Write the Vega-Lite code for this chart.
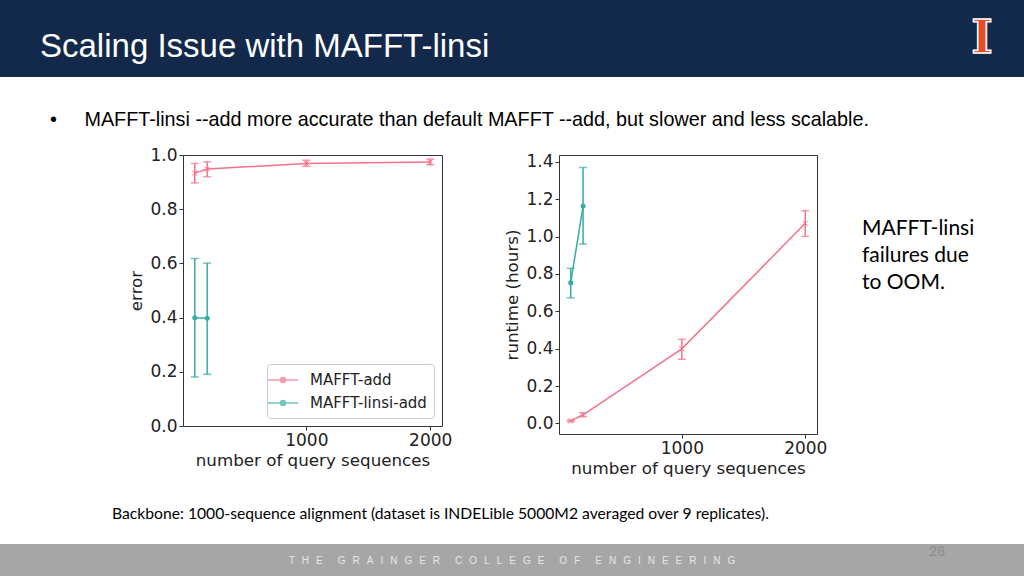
{
  "$schema": "https://vega.github.io/schema/vega-lite/v6.json",
  "padding": 0,
  "background": "white",
  "spacing": 0,
  "datasets": {
    "error": [
      {"tool": "MAFFT-add", "n": 100, "mean": 0.933, "lo": 0.897, "hi": 0.969},
      {"tool": "MAFFT-add", "n": 200, "mean": 0.948, "lo": 0.920, "hi": 0.975},
      {"tool": "MAFFT-add", "n": 1000, "mean": 0.969, "lo": 0.958, "hi": 0.981},
      {"tool": "MAFFT-add", "n": 2000, "mean": 0.974, "lo": 0.964, "hi": 0.985},
      {"tool": "MAFFT-linsi-add", "n": 100, "mean": 0.399, "lo": 0.181, "hi": 0.618},
      {"tool": "MAFFT-linsi-add", "n": 200, "mean": 0.398, "lo": 0.191, "hi": 0.601}
    ],
    "runtime": [
      {"tool": "MAFFT-add", "n": 100, "mean": 0.013, "lo": 0.009, "hi": 0.017},
      {"tool": "MAFFT-add", "n": 200, "mean": 0.046, "lo": 0.036, "hi": 0.057},
      {"tool": "MAFFT-add", "n": 1000, "mean": 0.399, "lo": 0.343, "hi": 0.450},
      {"tool": "MAFFT-add", "n": 2000, "mean": 1.071, "lo": 1.001, "hi": 1.139},
      {"tool": "MAFFT-linsi-add", "n": 100, "mean": 0.753, "lo": 0.672, "hi": 0.830},
      {"tool": "MAFFT-linsi-add", "n": 200, "mean": 1.164, "lo": 0.960, "hi": 1.370}
    ]
  },
  "config": {
    "view": {"stroke": null},
    "axis": {
      "grid": false,
      "domain": false,
      "tickColor": "#333333",
      "tickSize": 4,
      "labelColor": "#222222",
      "labelFont": "DejaVu Sans",
      "labelFontSize": 17,
      "labelPadding": 2,
      "titleColor": "#222222",
      "titleFont": "DejaVu Sans",
      "titleFontSize": 16.7,
      "titleFontWeight": "normal",
      "titlePadding": 4
    }
  },
  "vconcat": [
    {
      "hconcat": [
        {
          "width": 940, "height": 77,
          "data": {"values": [{}]},
          "mark": {"type": "rect", "color": "#13294b"},
          "title": {"text": "Scaling Issue with MAFFT-linsi", "orient": "top", "anchor": "start", "frame": "group", "offset": -63.5, "dx": 40, "baseline": "top", "font": "Liberation Sans", "fontSize": 33, "fontWeight": "normal", "color": "white"}
        },
        {
          "width": 84, "height": 77,
          "data": {"values": [{"logo": "I"}]},
          "layer": [
            {"mark": {"type": "rect", "color": "#13294b"}},
            {"mark": {"type": "text", "font": "DejaVu Serif", "fontWeight": "bold", "fontSize": 46, "fill": "#e84a27", "stroke": "white", "strokeWidth": 1.5, "baseline": "middle", "align": "center"}, "encoding": {"text": {"field": "logo"}}}
          ]
        }
      ],
      "spacing": 0,
      "bounds": "flush"
    },
    {
      "width": 1024, "height": 68,
      "data": {"values": [{}]},
      "mark": {"type": "rect", "opacity": 0},
      "title": {"text": "•\u00a0\u00a0\u00a0\u00a0\u00a0MAFFT-linsi --add more accurate than default MAFFT --add, but slower and less scalable.", "orient": "top", "anchor": "start", "frame": "group", "offset": -52.4, "dx": 50, "baseline": "top", "font": "Liberation Sans", "fontSize": 19.8, "fontWeight": "normal", "color": "black"}
    },
    {
      "hconcat": [
        {
          "width": 183, "height": 389,
          "data": {"values": [{}]},
          "mark": {"type": "rect", "opacity": 0},
          "title": {"text": "Backbone: 1000-sequence alignment (dataset is INDELible 5000M2 averaged over 9 replicates).", "orient": "bottom", "anchor": "start", "frame": "group", "offset": -25, "dx": 112, "baseline": "alphabetic", "font": "Lato", "fontSize": 15.7, "fontWeight": "normal", "color": "black"}
        },
        {
          "width": 259, "height": 271,
          "data": {"name": "error"},
          "view": {"stroke": "#333333", "strokeWidth": 1},
          "encoding": {
            "x": {"field": "n", "type": "quantitative", "title": "number of query sequences", "scale": {"domain": [5, 2095], "nice": false, "zero": false}, "axis": {"values": [1000, 2000], "format": "d"}},
            "color": {"field": "tool", "type": "nominal", "scale": {"domain": ["MAFFT-add", "MAFFT-linsi-add"], "range": ["#f77189", "#36ada4"]},
              "legend": {"orient": "bottom-right", "title": null, "offset": 8, "padding": 7, "strokeColor": "#cccccc", "fillColor": "white", "cornerRadius": 3, "labelFont": "DejaVu Sans", "labelFontSize": 15, "labelColor": "#222222", "symbolType": "M-1.9,0L1.9,0M-0.31,0A0.31,0.31,0,1,1,0.31,0A0.31,0.31,0,1,1,-0.31,0Z", "symbolSize": 256, "symbolStrokeWidth": 1.5, "labelOffset": 18, "rowPadding": 6}}
          },
          "layer": [
            {
              "mark": {"type": "errorbar", "ticks": {"size": 8}, "thickness": 1.5},
              "encoding": {
                "y": {"field": "lo", "type": "quantitative", "title": "error", "scale": {"domain": [0, 1], "nice": false}, "axis": {"format": ".1f"}},
                "y2": {"field": "hi"}
              }
            },
            {
              "mark": {"type": "line", "strokeWidth": 1.5},
              "encoding": {
                "y": {"field": "mean", "type": "quantitative", "title": "error", "scale": {"domain": [0, 1], "nice": false}, "axis": {"format": ".1f"}}
              }
            },
            {
              "transform": [{"filter": "datum.tool == 'MAFFT-add'"}],
              "mark": {"type": "point", "shape": "M-1,-1L1,1M-1,1L1,-1", "filled": false, "size": 25, "strokeWidth": 1, "opacity": 1},
              "encoding": {
                "y": {"field": "mean", "type": "quantitative", "title": "error", "scale": {"domain": [0, 1], "nice": false}, "axis": {"format": ".1f"}}
              }
            },
            {
              "transform": [{"filter": "datum.tool == 'MAFFT-linsi-add'"}],
              "mark": {"type": "point", "shape": "circle", "filled": true, "size": 25, "opacity": 1},
              "encoding": {
                "y": {"field": "mean", "type": "quantitative", "title": "error", "scale": {"domain": [0, 1], "nice": false}, "axis": {"format": ".1f"}}
              }
            }
          ]
        },
        {
          "width": 117, "height": 10,
          "data": {"values": [{}]},
          "mark": {"type": "rect", "opacity": 0}
        },
        {
          "width": 258, "height": 279,
          "data": {"name": "runtime"},
          "view": {"stroke": "#333333", "strokeWidth": 1},
          "encoding": {
            "x": {"field": "n", "type": "quantitative", "title": "number of query sequences", "scale": {"domain": [5, 2095], "nice": false, "zero": false}, "axis": {"values": [1000, 2000], "format": "d"}},
            "color": {"field": "tool", "type": "nominal", "scale": {"domain": ["MAFFT-add", "MAFFT-linsi-add"], "range": ["#f77189", "#36ada4"]}, "legend": null}
          },
          "layer": [
            {
              "mark": {"type": "errorbar", "ticks": {"size": 8}, "thickness": 1.5},
              "encoding": {
                "y": {"field": "lo", "type": "quantitative", "title": "runtime (hours)", "scale": {"domain": [-0.057, 1.437], "nice": false, "zero": false}, "axis": {"format": ".1f"}},
                "y2": {"field": "hi"}
              }
            },
            {
              "mark": {"type": "line", "strokeWidth": 1.5},
              "encoding": {
                "y": {"field": "mean", "type": "quantitative", "title": "runtime (hours)", "scale": {"domain": [-0.057, 1.437], "nice": false, "zero": false}, "axis": {"format": ".1f"}}
              }
            },
            {
              "transform": [{"filter": "datum.tool == 'MAFFT-add'"}],
              "mark": {"type": "point", "shape": "M-1,-1L1,1M-1,1L1,-1", "filled": false, "size": 25, "strokeWidth": 1, "opacity": 1},
              "encoding": {
                "y": {"field": "mean", "type": "quantitative", "title": "runtime (hours)", "scale": {"domain": [-0.057, 1.437], "nice": false, "zero": false}, "axis": {"format": ".1f"}}
              }
            },
            {
              "transform": [{"filter": "datum.tool == 'MAFFT-linsi-add'"}],
              "mark": {"type": "point", "shape": "circle", "filled": true, "size": 25, "opacity": 1},
              "encoding": {
                "y": {"field": "mean", "type": "quantitative", "title": "runtime (hours)", "scale": {"domain": [-0.057, 1.437], "nice": false, "zero": false}, "axis": {"format": ".1f"}}
              }
            }
          ]
        },
        {
          "width": 207, "height": 150,
          "data": {"values": [{}]},
          "mark": {"type": "rect", "opacity": 0},
          "title": {"text": ["MAFFT-linsi", "failures due", "to OOM."], "orient": "top", "anchor": "start", "frame": "group", "offset": -137.5, "dx": 45, "baseline": "top", "lineHeight": 27, "font": "Lato", "fontSize": 21, "fontWeight": "normal", "color": "black"}
        }
      ],
      "spacing": 0,
      "bounds": "flush",
      "resolve": {
        "scale": {"color": "independent", "x": "independent", "y": "independent"},
        "legend": {"color": "independent"}
      }
    },
    {
      "width": 1024, "height": 33,
      "data": {"values": [{"label": "T\u2002\u2009H\u2002\u2009E\u2003\u2002G\u2002\u2009R\u2002\u2009A\u2002\u2009I\u2002\u2009N\u2002\u2009G\u2002\u2009E\u2002\u2009R\u2003\u2002C\u2002\u2009O\u2002\u2009L\u2002\u2009L\u2002\u2009E\u2002\u2009G\u2002\u2009E\u2003\u2002O\u2002\u2009F\u2003\u2002E\u2002\u2009N\u2002\u2009G\u2002\u2009I\u2002\u2009N\u2002\u2009E\u2002\u2009E\u2002\u2009R\u2002\u2009I\u2002\u2009N\u2002\u2009G"}]},
      "layer": [
        {"mark": {"type": "rect", "color": "#a6a6a6"}},
        {"mark": {"type": "text", "font": "Liberation Sans", "fontSize": 10, "color": "#e6e6e6", "align": "center", "baseline": "middle"}, "encoding": {"text": {"field": "label"}}}
      ],
      "title": {"text": "28", "orient": "top", "anchor": "end", "frame": "group", "offset": -14.5, "dx": -79, "baseline": "top", "font": "Lato", "fontSize": 13.5, "fontWeight": "normal", "color": "#8c8c8c"}
    }
  ]
}
